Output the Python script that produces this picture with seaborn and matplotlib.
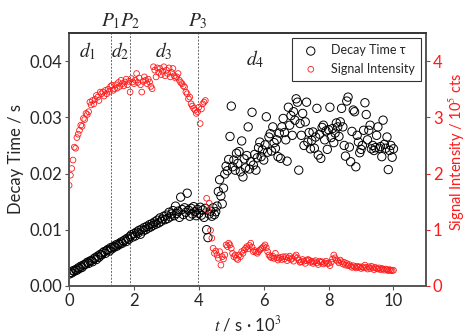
import numpy as np
import pandas as pd
import matplotlib
matplotlib.use("Agg")
import matplotlib.pyplot as plt
import seaborn as sns

# -----------------------------
# DATA
# -----------------------------
# time in 10^3 s, sampled every 0.04
t_kilo_s = [
    0.00, 0.04, 0.08, 0.12, 0.16, 0.20, 0.24, 0.28, 0.32, 0.36, 0.40, 0.44, 0.48,
    0.52, 0.56, 0.60, 0.64, 0.68, 0.72, 0.76, 0.80, 0.84, 0.88, 0.92, 0.96,
    1.00, 1.04, 1.08, 1.12, 1.16, 1.20, 1.24, 1.28, 1.32, 1.36, 1.40, 1.44, 1.48,
    1.52, 1.56, 1.60, 1.64, 1.68, 1.72, 1.76, 1.80, 1.84, 1.88, 1.92, 1.96,
    2.00, 2.04, 2.08, 2.12, 2.16, 2.20, 2.24, 2.28, 2.32, 2.36, 2.40, 2.44, 2.48,
    2.52, 2.56, 2.60, 2.64, 2.68, 2.72, 2.76, 2.80, 2.84, 2.88, 2.92, 2.96,
    3.00, 3.04, 3.08, 3.12, 3.16, 3.20, 3.24, 3.28, 3.32, 3.36, 3.40, 3.44, 3.48,
    3.52, 3.56, 3.60, 3.64, 3.68, 3.72, 3.76, 3.80, 3.84, 3.88, 3.92, 3.96,
    4.00, 4.04, 4.08, 4.12, 4.16, 4.20, 4.24, 4.28, 4.32, 4.36, 4.40, 4.44, 4.48,
    4.52, 4.56, 4.60, 4.64, 4.68, 4.72, 4.76, 4.80, 4.84, 4.88, 4.92, 4.96,
    5.00, 5.04, 5.08, 5.12, 5.16, 5.20, 5.24, 5.28, 5.32, 5.36, 5.40, 5.44, 5.48,
    5.52, 5.56, 5.60, 5.64, 5.68, 5.72, 5.76, 5.80, 5.84, 5.88, 5.92, 5.96,
    6.00, 6.04, 6.08, 6.12, 6.16, 6.20, 6.24, 6.28, 6.32, 6.36, 6.40, 6.44, 6.48,
    6.52, 6.56, 6.60, 6.64, 6.68, 6.72, 6.76, 6.80, 6.84, 6.88, 6.92, 6.96,
    7.00, 7.04, 7.08, 7.12, 7.16, 7.20, 7.24, 7.28, 7.32, 7.36, 7.40, 7.44, 7.48,
    7.52, 7.56, 7.60, 7.64, 7.68, 7.72, 7.76, 7.80, 7.84, 7.88, 7.92, 7.96,
    8.00, 8.04, 8.08, 8.12, 8.16, 8.20, 8.24, 8.28, 8.32, 8.36, 8.40, 8.44, 8.48,
    8.52, 8.56, 8.60, 8.64, 8.68, 8.72, 8.76, 8.80, 8.84, 8.88, 8.92, 8.96,
    9.00, 9.04, 9.08, 9.12, 9.16, 9.20, 9.24, 9.28, 9.32, 9.36, 9.40, 9.44, 9.48,
    9.52, 9.56, 9.60, 9.64, 9.68, 9.72, 9.76, 9.80, 9.84, 9.88, 9.92, 9.96, 10.00,
]

# decay time in ms
decay_ms = [
    2.1, 2.4, 2.3, 2.7, 2.6, 2.9, 2.8, 3.2, 3.1, 3.5, 3.3, 3.7, 3.8,
    3.9, 4.2, 4.0, 4.4, 4.5, 4.3, 4.8, 5.0, 4.7, 5.3, 5.1, 5.6,
    5.5, 5.9, 6.1, 5.8, 6.3, 6.5, 6.2, 6.8, 6.6, 7.0, 6.9, 7.3, 7.1,
    7.5, 7.4, 7.8, 7.6, 8.0, 8.2, 7.9, 8.5, 8.3, 8.8, 9.1, 8.7,
    9.3, 8.9, 9.6, 9.4, 9.9, 9.2, 10.1, 9.8, 10.4, 10.0, 10.6, 10.3, 10.9,
    10.5, 11.1, 10.8, 11.4, 11.0, 11.7, 11.2, 12.1, 11.5, 11.9, 12.4, 11.8,
    12.6, 12.0, 13.1, 12.3, 12.8, 13.4, 12.5, 14.2, 12.9, 13.3, 12.2, 15.8, 13.6,
    12.7, 13.9, 13.1, 16.5, 13.5, 12.4, 13.8, 12.8, 14.1, 13.2, 12.5, 13.6,
    12.9, 14.0, 12.6, 13.5, 12.2, 13.8, 10.0, 8.6, 12.8, 13.3, 12.4, 13.9, 12.7,
    13.2, 14.2, 16.8, 18.9, 16.0, 14.6, 17.4, 19.9, 21.3, 20.5, 22.5, 26.6,
    32.0, 21.2, 22.4, 20.6, 23.6, 21.8, 23.9, 20.3, 25.8, 19.4, 22.6, 21.0, 23.2,
    28.3, 20.8, 22.1, 30.9, 21.5, 23.4, 20.6, 22.8, 24.6, 25.6, 23.0, 24.2,
    22.4, 25.1, 30.1, 23.8, 26.5, 27.1, 24.0, 28.3, 25.5, 24.5, 26.0, 23.0, 27.2,
    22.7, 28.3, 29.8, 27.3, 26.0, 22.2, 31.8, 28.6, 30.3, 26.8, 31.0, 29.5,
    33.3, 32.7, 20.6, 28.9, 26.8, 30.7, 25.0, 29.2, 32.7, 25.6, 27.3, 24.4, 25.9,
    27.4, 24.5, 26.5, 31.6, 23.3, 27.0, 22.7, 28.2, 28.6, 26.0, 27.6, 24.3,
    27.8, 31.8, 26.4, 28.0, 25.5, 27.2, 29.0, 28.3, 26.6, 29.2, 31.6, 28.3, 25.0,
    23.1, 32.9, 33.6, 24.7, 22.1, 27.5, 31.3, 31.0, 21.2, 26.8, 25.6, 23.7,
    24.3, 25.0, 27.7, 32.6, 30.5, 26.0, 27.7, 28.6, 24.4, 25.0, 24.1, 24.6, 26.8,
    28.3, 24.5, 24.8, 23.0, 29.5, 25.2, 24.5, 26.5, 20.7, 24.1, 25.0, 22.9, 24.4,
]

# signal intensity in 10^5 cts
intensity = [
    1.79, 1.97, 2.09, 2.24, 2.47, 2.45, 2.64, 2.70, 2.77, 2.86, 2.84, 2.98, 2.96,
    3.07, 3.05, 3.10, 3.27, 3.22, 3.30, 3.24, 3.32, 3.39, 3.36, 3.30, 3.45,
    3.42, 3.45, 3.38, 3.48, 3.42, 3.50, 3.46, 3.55, 3.57, 3.48, 3.51, 3.58, 3.52,
    3.62, 3.55, 3.66, 3.60, 3.56, 3.63, 3.68, 3.58, 3.64, 3.45, 3.69, 3.63,
    3.60, 3.66, 3.78, 3.62, 3.70, 3.58, 3.45, 3.64, 3.72, 3.66, 3.60, 3.68, 3.63,
    3.55, 3.51, 3.90, 3.84, 3.72, 3.88, 3.80, 3.87, 3.76, 3.82, 3.90, 3.74,
    3.84, 3.78, 3.88, 3.72, 3.80, 3.87, 3.74, 3.70, 3.72, 3.78, 3.66, 3.62, 3.60,
    3.56, 3.54, 3.45, 3.42, 3.33, 3.36, 3.24, 3.20, 3.16, 3.13, 3.07, 3.10,
    3.18, 2.89, 3.15, 3.24, 3.27, 3.30, 1.56, 1.35, 1.47, 0.99, 0.85, 0.67, 0.58,
    0.62, 0.55, 0.49, 0.61, 0.37, 0.52, 0.48, 0.55, 0.73, 0.70, 0.76, 0.73,
    0.67, 0.58, 0.52, 0.55, 0.49, 0.47, 0.55, 0.52, 0.61, 0.58, 0.64, 0.67, 0.70,
    0.66, 0.72, 0.76, 0.69, 0.61, 0.63, 0.60, 0.58, 0.61, 0.64, 0.66, 0.68,
    0.70, 0.73, 0.68, 0.61, 0.55, 0.52, 0.50, 0.53, 0.49, 0.58, 0.50, 0.46, 0.49,
    0.51, 0.47, 0.52, 0.48, 0.52, 0.45, 0.50, 0.53, 0.47, 0.49, 0.44, 0.52,
    0.55, 0.50, 0.46, 0.42, 0.43, 0.47, 0.44, 0.40, 0.45, 0.47, 0.46, 0.42, 0.44,
    0.40, 0.43, 0.45, 0.41, 0.38, 0.44, 0.42, 0.43, 0.39, 0.41, 0.44, 0.40,
    0.40, 0.36, 0.42, 0.48, 0.55, 0.50, 0.46, 0.44, 0.41, 0.46, 0.43, 0.39, 0.42,
    0.37, 0.40, 0.36, 0.38, 0.35, 0.33, 0.36, 0.34, 0.32, 0.35, 0.33, 0.34,
    0.31, 0.34, 0.32, 0.37, 0.33, 0.30, 0.34, 0.31, 0.35, 0.32, 0.29, 0.33, 0.31,
    0.30, 0.32, 0.29, 0.31, 0.30, 0.28, 0.30, 0.29, 0.27, 0.29, 0.28, 0.27, 0.28,
]

# phase boundaries and labels
p_times = [1.28, 1.88, 3.97]
p_labels = ["$P_1$", "$P_2$", "$P_3$"]
d_times = [0.58, 1.58, 2.92, 5.75]
d_labels = ["$d_1$", "$d_2$", "$d_3$", "$d_4$"]

df = pd.DataFrame({
    "t": t_kilo_s,
    "decay": np.array(decay_ms) / 1000.0,
    "signal": intensity,
})

# -----------------------------
# STYLE
# -----------------------------
sns.set_style("ticks")
plt.rcParams["font.family"] = ["Lato", "DejaVu Sans"]
plt.rcParams["mathtext.fontset"] = "stix"

fig = plt.figure(figsize=(4.67, 3.34), dpi=100)
ax = fig.add_axes([0.148, 0.144, 0.764, 0.757])
ax2 = ax.twinx()

red = "#ff1a1a"

sns.scatterplot(data=df, x="t", y="decay", ax=ax, marker="o",
                fc="none", ec="black", s=36, linewidth=0.7,
                label="Decay Time \u03c4", legend=False)
sns.scatterplot(data=df, x="t", y="signal", ax=ax2, marker="o",
                fc="none", ec=red, s=17, linewidth=0.6,
                label="Signal Intensity", legend=False)

for p in p_times:
    ax.axvline(p, color="#666666", linestyle=(0, (2, 1.5)), linewidth=0.7, zorder=0)
for p, lab in zip(p_times, p_labels):
    ax.text(p, 1.01, lab, transform=ax.get_xaxis_transform(),
            ha="center", va="bottom", fontsize=14, style="italic")
for d, lab in zip(d_times[:3], d_labels[:3]):
    ax.text(d, 0.0418, lab, ha="center", va="center", fontsize=14)
ax.text(d_times[3], 0.0403, d_labels[3], ha="center", va="center", fontsize=14)

ax.set_xlim(0, 11)
ax.set_ylim(0, 0.045)
ax2.set_ylim(0, 4.5)
ax.set_xticks([0, 2, 4, 6, 8, 10])
ax.set_yticks([0.00, 0.01, 0.02, 0.03, 0.04])
ax.set_yticklabels(["0.00", "0.01", "0.02", "0.03", "0.04"])
ax2.set_yticks([0, 1, 2, 3, 4])

ax.set_xlabel("$t$ / s \u00b7 10$^3$", fontsize=12, labelpad=4)
ax.set_ylabel("Decay Time / s", fontsize=12, labelpad=4)
ax2.set_ylabel("Signal Intensity / 10$^5$ cts", fontsize=10.5, color=red)
ax2.yaxis.set_label_coords(1.058, 0.53)

ax.tick_params(labelsize=12, length=3, width=0.8, color="#555555", pad=2)
ax2.tick_params(labelsize=12, length=3, width=0.8, colors=red, pad=2)
for a in (ax, ax2):
    for side in ["left", "bottom", "right"]:
        a.spines[side].set_color("#555555")
        a.spines[side].set_linewidth(1.2)
    a.spines["top"].set_color("#333333")
    a.spines["top"].set_linewidth(1.2)
    a.spines["top"].set_visible(True)
    a.spines["right"].set_visible(True)

h1, l1 = ax.get_legend_handles_labels()
h2, l2 = ax2.get_legend_handles_labels()
leg = ax2.legend(h1 + h2, l1 + l2, loc="upper right", fontsize=9,
                 frameon=True, fancybox=False, edgecolor="black",
                 borderpad=0.5, handletextpad=0.6, borderaxespad=0.4)
leg.get_frame().set_linewidth(0.8)

plt.savefig("out.png", dpi=100)
